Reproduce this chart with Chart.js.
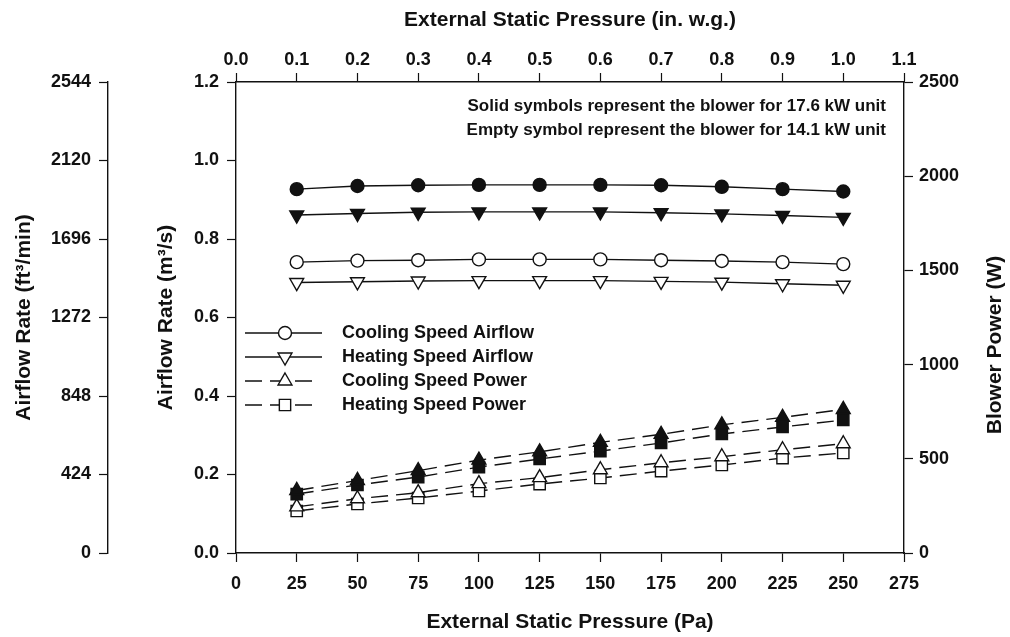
<!DOCTYPE html>
<html>
<head>
<meta charset="utf-8">
<title>Blower airflow and power</title>
<script src="https://cdn.jsdelivr.net/npm/chart.js@4.4.0/dist/chart.umd.min.js"></script>
<style>
body { margin: 0; background: #fff; }
</style>
</head>
<body>
<canvas id="myChart" width="1010" height="637"></canvas>
<script>
// external static pressure (Pa)
var pressurePa = [25, 50, 75, 100, 125, 150, 175, 200, 225, 250];

// airflow rate (m3/s), 17.6 kW unit = solid symbols, 14.1 kW unit = empty symbols
var coolFlow176 = [0.927, 0.935, 0.937, 0.938, 0.938, 0.938, 0.937, 0.933, 0.927, 0.921];
var heatFlow176 = [0.861, 0.865, 0.868, 0.869, 0.869, 0.869, 0.867, 0.864, 0.860, 0.855];
var coolFlow141 = [0.741, 0.745, 0.746, 0.748, 0.748, 0.748, 0.746, 0.744, 0.741, 0.736];
var heatFlow141 = [0.689, 0.691, 0.693, 0.694, 0.694, 0.694, 0.692, 0.690, 0.686, 0.682];

// blower power (W)
var coolPow176 = [332, 385, 437, 493, 537, 587, 630, 680, 720, 762];
var heatPow176 = [313, 361, 403, 456, 499, 541, 584, 632, 669, 706];
var coolPow141 = [245, 288, 320, 368, 400, 442, 479, 511, 548, 580];
var heatPow141 = [223, 260, 292, 329, 366, 398, 435, 467, 504, 531];

var legendLabels = ["Cooling Speed Airflow", "Heating Speed Airflow", "Cooling Speed Power", "Heating Speed Power"];
var noteLines = ["Solid symbols represent the blower for 17.6 kW unit", "Empty symbol represent the blower for 14.1 kW unit"];

var ink = '#111';
var family = '"Liberation Sans", Arial, Helvetica, sans-serif';
var tickFont = {family: family, size: 18, weight: 'bold'};
var titleFont = {family: family, size: 21, weight: 'bold'};

function series(data, axis, style, filled, dashed, rot) {
	return {
		data: pressurePa.map(function (p, i) { return {x: p, y: data[i]}; }),
		yAxisID: axis,
		borderColor: ink,
		borderWidth: 1.4,
		borderDash: dashed ? [17, 8] : [],
		pointStyle: style,
		pointRotation: rot || 0,
		pointRadius: style == 'circle' ? 6.5 : 8,
		pointHoverRadius: style == 'circle' ? 6.5 : 8,
		pointBackgroundColor: filled ? ink : '#fff',
		pointBorderColor: ink,
		pointBorderWidth: 1.4,
		fill: false,
		tension: 0
	};
}

function grid() {
	return {drawOnChartArea: false, color: ink, tickLength: 9, tickWidth: 1.2};
}

// legend sample, line plus marker, drawn next to the text
function drawLegend(ctx) {
	var rows = [
		{style: 'circle', rot: 0, r: 6.5, dash: []},
		{style: 'triangle', rot: 180, r: 8, dash: []},
		{style: 'triangle', rot: 0, r: 8, dash: [17, 8]},
		{style: 'rect', rot: 0, r: 8, dash: [17, 8]}
	];
	var y0 = 333, dy = 24;
	ctx.save();
	for (var i = 0; i < rows.length; i++) {
		var y = y0 + i * dy;
		ctx.strokeStyle = ink;
		ctx.lineWidth = 1.4;
		ctx.setLineDash(rows[i].dash);
		ctx.beginPath();
		ctx.moveTo(245, y);
		ctx.lineTo(rows[i].dash.length ? 316 : 322, y);
		ctx.stroke();
		ctx.setLineDash([]);
		ctx.fillStyle = '#fff';
		Chart.helpers.drawPoint(ctx, {pointStyle: rows[i].style, radius: rows[i].r, rotation: rows[i].rot, borderWidth: 1.4}, 285, y);
		ctx.fillStyle = ink;
		ctx.font = 'bold 18px ' + family;
		ctx.textAlign = 'left';
		ctx.textBaseline = 'middle';
		ctx.fillText(legendLabels[i], 342, y);
	}
	ctx.restore();
}

var extras = {
	id: 'extras',
	afterDraw: function (chart) {
		var ctx = chart.ctx;
		drawLegend(ctx);

		ctx.save();
		ctx.fillStyle = ink;
		ctx.font = 'bold 17px ' + family;
		ctx.textAlign = 'right';
		ctx.textBaseline = 'middle';
		ctx.fillText(noteLines[0], 886, 106);
		ctx.fillText(noteLines[1], 886, 130);

		// right axis title reads bottom to top
		ctx.translate(995, 345);
		ctx.rotate(-Math.PI / 2);
		ctx.font = 'bold 21px ' + family;
		ctx.textAlign = 'center';
		ctx.fillText('Blower Power (W)', 0, 0);
		ctx.restore();
	}
};

var ctx = document.getElementById('myChart').getContext('2d');
var chart = new Chart(ctx, {
	type: 'line',
	data: {
		datasets: [
			series(coolFlow176, 'y', 'circle', true, false),
			series(heatFlow176, 'y', 'triangle', true, false, 180),
			series(coolFlow141, 'y', 'circle', false, false),
			series(heatFlow141, 'y', 'triangle', false, false, 180),
			series(coolPow176, 'yPow', 'triangle', true, true),
			series(heatPow176, 'yPow', 'rect', true, true),
			series(coolPow141, 'yPow', 'triangle', false, true),
			series(heatPow141, 'yPow', 'rect', false, true)
		]
	},
	options: {
		responsive: false,
		animation: false,
		layout: {padding: 0},
		plugins: {legend: {display: false}, tooltip: {enabled: false}},
		scales: {
			x: {
				type: 'linear', position: 'bottom', min: 0, max: 275,
				ticks: {stepSize: 25, font: tickFont, color: ink, padding: 11, maxRotation: 0},
				grid: grid(), border: {color: ink, width: 1.4},
				title: {display: true, text: 'External Static Pressure (Pa)', font: titleFont, color: ink, padding: {top: 0, bottom: 2}},
				afterFit: function (s) { s.height = 84; }
			},
			xTop: {
				type: 'linear', position: 'top', min: 0, max: 1.1,
				ticks: {stepSize: 0.1, font: tickFont, color: ink, padding: 2, maxRotation: 0,
					callback: function (v) { return v.toFixed(1); }},
				grid: grid(), border: {color: ink, width: 1.4},
				title: {display: true, text: 'External Static Pressure (in. w.g.)', font: titleFont, color: ink, padding: {top: 8, bottom: 0}},
				afterFit: function (s) { s.height = 82; }
			},
			yCfm: {
				type: 'linear', position: 'left', weight: 1, min: 0, max: 2544,
				ticks: {stepSize: 424, font: tickFont, color: ink, padding: 8,
					callback: function (v) { return String(v); }},
				grid: grid(), border: {color: ink, width: 1.4},
				title: {display: true, text: 'Airflow Rate (ft³/min)', font: titleFont, color: ink, padding: {top: 12, bottom: 0}},
				afterFit: function (s) { s.width = 108; }
			},
			y: {
				type: 'linear', position: 'left', weight: 0, min: 0, max: 1.2,
				ticks: {stepSize: 0.2, font: tickFont, color: ink, padding: 8,
					callback: function (v) { return v.toFixed(1); }},
				grid: grid(), border: {color: ink, width: 1.4},
				title: {display: true, text: 'Airflow Rate (m³/s)', font: titleFont, color: ink, padding: {top: 46, bottom: 0}},
				afterFit: function (s) { s.width = 128; }
			},
			yPow: {
				type: 'linear', position: 'right', min: 0, max: 2500,
				ticks: {stepSize: 500, font: tickFont, color: ink, padding: 6,
					callback: function (v) { return String(v); }},
				grid: grid(), border: {color: ink, width: 1.4},
				afterFit: function (s) { s.width = 106; }
			}
		}
	},
	plugins: [extras]
});
</script>
</body>
</html>
